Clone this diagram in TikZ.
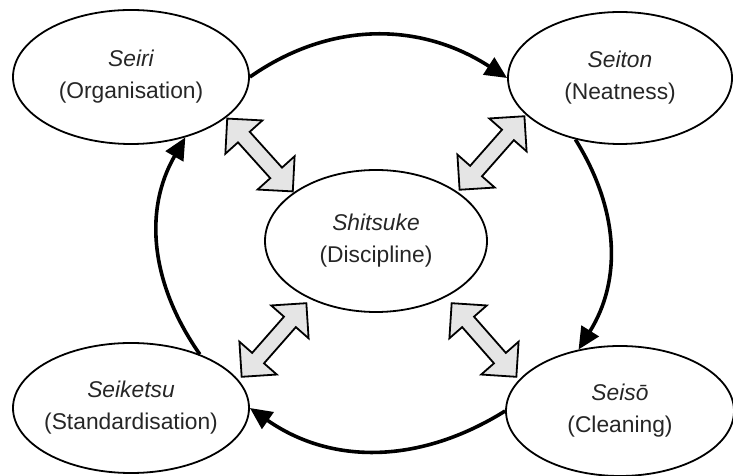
\documentclass[tikz,border=0pt]{standalone}
\usepackage{fontspec}
\setmainfont{Liberation Sans}
\usetikzlibrary{shapes.geometric, shapes.arrows, arrows.meta}
\tikzstyle{stage} = [ellipse, draw=black, line width=0.9pt, align=center, inner sep=0pt, text=black!85, font=\fontsize{11.4}{16}\selectfont, minimum width=116pt, minimum height=66pt]
\tikzstyle{link} = [double arrow, draw=black, line width=0.9pt, fill=gray!20, inner xsep=0pt, inner ysep=3.5pt, minimum height=49pt, double arrow head extend=8.5pt, double arrow tip angle=90]
\tikzstyle{cycle} = [line width=1.8pt, -{Triangle[length=11pt,width=10pt]}]
\newcommand{\stagelabel}[2]{\makebox[0pt]{\itshape #1}\\\makebox[0pt]{(#2)}}

\begin{document}
\begin{tikzpicture}[x=0.5pt, y=0.5pt]

\useasboundingbox (0,0) rectangle (733,476);

\node (seiri) [stage, minimum width=118pt, minimum height=67pt] at (131,399) {\stagelabel{Seiri}{Organisation}};
\node (seiton) [stage, minimum width=112pt] at (620,398) {\stagelabel{Seiton}{Neatness}};
\node (shitsuke) [stage, minimum width=111pt, minimum height=71pt] at (376,235) {\stagelabel{Shitsuke}{Discipline}};
\node (seiketsu) [stage, minimum width=118pt, minimum height=65pt] at (131,68) {\stagelabel{Seiketsu}{Standardisation}};
\node (seiso) [stage, minimum width=114pt, minimum height=65pt] at (620,65) {\stagelabel{Seisō}{Cleaning}};

% double arrows round the centre
\node (l1) [link, rotate=-48] at (260,321) {};
\node (l2) [link, rotate=48.6] at (492,323) {};
\node (l3) [link, rotate=48.7] at (274,136) {};
\node (l4) [link, rotate=-48.7] at (484,136) {};

\draw[cycle] (seiri.east) to[out=35,in=147] (seiton.west);
\draw[cycle] (seiton.234) to[out=-58,in=58] (seiso.124);
\draw[cycle] (seiso.west) to[out=212,in=-35] (seiketsu.east);
\draw[cycle] (seiketsu.38) to[out=125,in=-120] (seiri.-48);

\end{tikzpicture}
\end{document}
